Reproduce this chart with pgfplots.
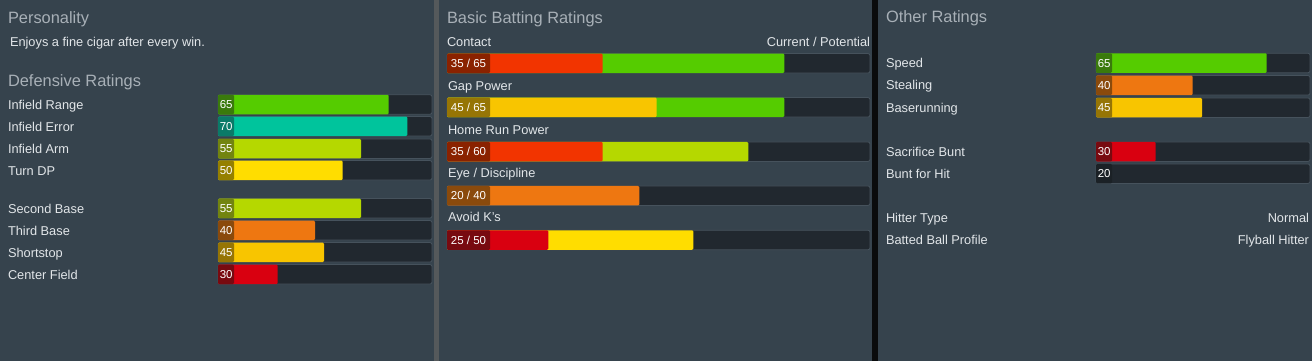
\documentclass[border=0pt]{standalone}
\usepackage{pgfplots}
\pgfplotsset{compat=1.18}
\usepackage{fontspec}
\setmainfont{Liberation Sans}
\definecolor{panel}{HTML}{36434D}
\definecolor{gapgray}{HTML}{55595B}
\definecolor{gapblack}{HTML}{0A0B0C}
\definecolor{track}{HTML}{21282F}
\definecolor{trackedge}{HTML}{46525C}
\definecolor{headc}{HTML}{A8B0B7}
\definecolor{labc}{HTML}{E2E6E9}
% bar colours (fill / label box)
\definecolor{cA}{HTML}{55CC00}\definecolor{cAd}{HTML}{3A7A0C}% 65
\definecolor{cB}{HTML}{00C49C}\definecolor{cBd}{HTML}{0A7A68}% 70
\definecolor{cC}{HTML}{B5D800}\definecolor{cCd}{HTML}{728410}% 55
\definecolor{cD}{HTML}{FFDD00}\definecolor{cDd}{HTML}{958000}% 50
\definecolor{cE}{HTML}{EE7711}\definecolor{cEd}{HTML}{8A4A0C}% 40
\definecolor{cF}{HTML}{F8C500}\definecolor{cFd}{HTML}{967505}% 45
\definecolor{cG}{HTML}{D90010}\definecolor{cGd}{HTML}{780A10}% 30/25
\definecolor{cH}{HTML}{F23400}\definecolor{cHd}{HTML}{8A2200}% 35
\definecolor{cI}{HTML}{1B2126}% 20
\pgfplotsset{
  panelbars/.style={
    scale only axis, axis lines=none, clip=false, enlargelimits=false,
    ymin=0, ymax=361, y dir=reverse, height=361bp,
    xmin=0, anchor=north west,
    xbar, bar width=19.5, bar shift=0pt,
  },
  tr/.style={fill=track, draw=trackedge, line width=0.8bp, rounded corners=2bp},
  fl/.style={fill=#1, draw=none, rounded corners=1.2bp},
}
\newcommand{\hd}{\fontsize{16.4bp}{18bp}\selectfont\color{headc}}
\newcommand{\lb}{\fontsize{12.8bp}{14bp}\selectfont\color{labc}}
\newcommand{\vl}{\fontsize{11.5bp}{13bp}\selectfont\color{white}}
\begin{document}
\begin{tikzpicture}
\fill[panel] (0,0) rectangle (1312bp,-361bp);
\fill[gapgray] (434bp,0) rectangle (439bp,-361bp);
\fill[gapblack] (872bp,0) rectangle (878bp,-361bp);

% ---------------- left panel: defensive ratings ----------------
\begin{axis}[panelbars, at={(218bp,0bp)}, width=214bp, xmax=214]
\addplot[tr] coordinates {(214,104.5) (214,126.3) (214,148.7) (214,170.3) (214,208.3) (214,230.3) (214,252.3) (214,274.3)};
\addplot[fl=cA] coordinates {(170.7,104.5)};
\addplot[fl=cB] coordinates {(189.3,126.3)};
\addplot[fl=cC] coordinates {(143,148.7)};
\addplot[fl=cD] coordinates {(124.7,170.3)};
\addplot[fl=cC] coordinates {(143,208.3)};
\addplot[fl=cE] coordinates {(97,230.3)};
\addplot[fl=cF] coordinates {(106,252.3)};
\addplot[fl=cG] coordinates {(59.7,274.3)};
\addplot[fl=cAd] coordinates {(16,104.5)};
\addplot[fl=cBd] coordinates {(16,126.3)};
\addplot[fl=cCd] coordinates {(16,148.7)};
\addplot[fl=cDd] coordinates {(16,170.3)};
\addplot[fl=cCd] coordinates {(16,208.3)};
\addplot[fl=cEd] coordinates {(16,230.3)};
\addplot[fl=cFd] coordinates {(16,252.3)};
\addplot[fl=cGd] coordinates {(16,274.3)};
\foreach \v/\y in {65/104.5,70/126.3,55/148.7,50/170.3,55/208.3,40/230.3,45/252.3,30/274.3}{
  \edef\tmp{\noexpand\node[anchor=base] at (axis cs:8.2,\y+4.2) {\noexpand\vl \v};}\tmp
}
\end{axis}

% ---------------- middle panel: batting ratings ----------------
\begin{axis}[panelbars, at={(447bp,0bp)}, width=423bp, xmax=423]
\addplot[tr] coordinates {(423,63.3) (423,107.3) (423,151.7) (423,195.7) (423,240)};
% potential
\addplot[fl=cA] coordinates {(337.3,63.3)};
\addplot[fl=cA] coordinates {(337.3,107.3)};
\addplot[fl=cC] coordinates {(301.3,151.7)};
\addplot[fl=cE] coordinates {(192.3,195.7)};
\addplot[fl=cD] coordinates {(246.3,240)};
% current
\addplot[fl=cH] coordinates {(155.7,63.3)};
\addplot[fl=cF] coordinates {(209.7,107.3)};
\addplot[fl=cH] coordinates {(155.7,151.7)};
\addplot[fl=cG] coordinates {(101.3,240)};
% label boxes
\addplot[fl=cHd] coordinates {(43,63.3)};
\addplot[fl=cFd] coordinates {(43,107.3)};
\addplot[fl=cHd] coordinates {(43,151.7)};
\addplot[fl=cEd] coordinates {(43,195.7)};
\addplot[fl=cGd] coordinates {(43,240)};
\node[anchor=base] at (axis cs:21.5,67.5) {\vl 35 / 65};
\node[anchor=base] at (axis cs:21.5,111.5) {\vl 45 / 65};
\node[anchor=base] at (axis cs:21.5,155.9) {\vl 35 / 60};
\node[anchor=base] at (axis cs:21.5,199.9) {\vl 20 / 40};
\node[anchor=base] at (axis cs:21.5,244.2) {\vl 25 / 50};
\end{axis}

% ---------------- right panel: other ratings ----------------
\begin{axis}[panelbars, at={(1096bp,0bp)}, width=214bp, xmax=214]
\addplot[tr] coordinates {(214,63) (214,85.3) (214,107.7) (214,151.7) (214,173.7)};
\addplot[fl=cA] coordinates {(170.7,63)};
\addplot[fl=cE] coordinates {(96.7,85.3)};
\addplot[fl=cF] coordinates {(106,107.7)};
\addplot[fl=cG] coordinates {(59.7,151.7)};
\addplot[fl=cAd] coordinates {(16,63)};
\addplot[fl=cEd] coordinates {(16,85.3)};
\addplot[fl=cFd] coordinates {(16,107.7)};
\addplot[fl=cGd] coordinates {(16,151.7)};
\addplot[fl=cI] coordinates {(16,173.7)};
\foreach \v/\y in {65/63,40/85.3,45/107.7,30/151.7,20/173.7}{
  \edef\tmp{\noexpand\node[anchor=base] at (axis cs:8.2,\y+4.2) {\noexpand\vl \v};}\tmp
}
\end{axis}

% ---------------- texts ----------------
\begin{scope}[x=1bp,y=-1bp, every node/.style={inner sep=0pt, outer sep=0pt}]
\node[anchor=base west] at (8,23.3) {\hd Personality};
\node[anchor=base west] at (10,46) {\lb Enjoys a fine cigar after every win.};
\node[anchor=base west] at (8,86) {\hd Defensive Ratings};
\foreach \t/\y in {Infield Range/104.5,Infield Error/126.3,Infield Arm/148.7,Turn DP/170.3,Second Base/208.3,Third Base/230.3,Shortstop/252.3,Center Field/274.3}{
  \node[anchor=base west] at (8,\y+4.8) {\lb \t};
}
\node[anchor=base west] at (447,23.3) {\hd Basic Batting Ratings};
\node[anchor=base west] at (447,46) {\lb Contact};
\node[anchor=base east] at (870,46) {\lb Current / Potential};
\node[anchor=base west] at (448,90) {\lb Gap Power};
\node[anchor=base west] at (448,134) {\lb Home Run Power};
\node[anchor=base west] at (448,177.5) {\lb Eye / Discipline};
\node[anchor=base west] at (448,221.5) {\lb Avoid K's};
\node[anchor=base west] at (886,22.7) {\hd Other Ratings};
\foreach \t/\y in {Speed/63,Stealing/85.3,Baserunning/107.7,Sacrifice Bunt/151.7,Bunt for Hit/173.7,Hitter Type/217.5,Batted Ball Profile/239.5}{
  \node[anchor=base west] at (886,\y+4.6) {\lb \t};
}
\node[anchor=base east] at (1309,222.1) {\lb Normal};
\node[anchor=base east] at (1309,244.1) {\lb Flyball Hitter};
\end{scope}
\end{tikzpicture}
\end{document}
